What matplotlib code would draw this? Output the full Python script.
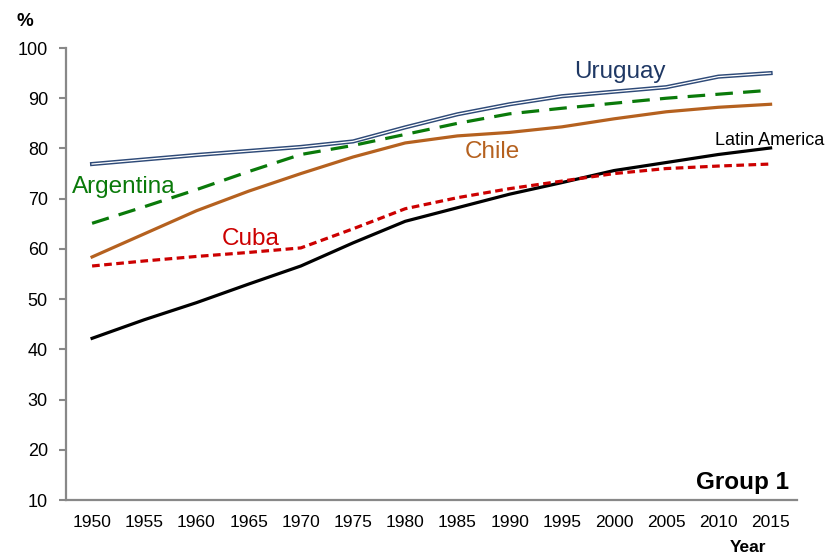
import matplotlib.pyplot as plt

plt.rcParams['font.family'] = ['Liberation Sans', 'DejaVu Sans']

years = [1950, 1955, 1960, 1965, 1970, 1975, 1980, 1985, 1990, 1995, 2000, 2005, 2010, 2015]
uruguay = [76.9, 77.8, 78.7, 79.5, 80.3, 81.4, 84.2, 86.8, 88.8, 90.4, 91.3, 92.2, 94.3, 95.0]
argentina = [65.1, 68.4, 71.8, 75.4, 78.8, 80.6, 82.8, 85.0, 86.9, 88.0, 89.0, 90.0, 90.8, 91.6]
chile = [58.4, 63.0, 67.6, 71.5, 75.0, 78.3, 81.1, 82.5, 83.2, 84.3, 85.9, 87.3, 88.2, 88.8]
cuba = [56.6, 57.6, 58.5, 59.3, 60.2, 64.0, 68.0, 70.2, 72.0, 73.5, 75.0, 76.0, 76.5, 76.9]
latam = [42.2, 45.9, 49.3, 53.0, 56.6, 61.2, 65.5, 68.2, 70.9, 73.2, 75.6, 77.2, 78.8, 80.1]

fig = plt.figure(figsize=(8.29, 5.55), dpi=100)
ax = fig.add_axes([0.0796, 0.099, 0.8814, 0.8145])

ax.plot(years, latam, color='black', lw=2.3)
ax.plot(years, cuba, color='#CC0000', lw=2.3, dashes=(2.4, 1.4))
ax.plot(years, chile, color='#B5611F', lw=2.3)
ax.plot(years, argentina, color='#0A7A0A', lw=2.3, dashes=(5.5, 3.2))
ax.plot(years, uruguay, color='#2E4A78', lw=3.0)
ax.plot(years, uruguay, color='white', lw=0.9)

ax.text(1996.2, 94.0, 'Uruguay', color='#1F3864', fontsize=17.5)
ax.text(1985.7, 78.1, 'Chile', color='#B5611F', fontsize=17.5)
ax.text(1948.1, 71.1, 'Argentina', color='#0A7A0A', fontsize=17.5)
ax.text(1962.4, 60.8, 'Cuba', color='#CC0000', fontsize=17.5)
ax.text(2009.7, 80.7, 'Latin America', color='black', fontsize=13)
ax.text(2016.8, 12.2, 'Group 1', fontsize=17.5, fontweight='bold', ha='right')

ax.set_xlim(1947.5, 2017.5)
ax.set_ylim(10, 100)
ax.set_yticks(range(10, 101, 10))
ax.set_xticks(years)
ax.tick_params(axis='x', length=0, labelsize=12.5, pad=11)
ax.tick_params(axis='y', length=5, width=1.5, color='#888888', labelsize=13, pad=8, direction='out')
for s in ['top', 'right']:
    ax.spines[s].set_visible(False)
for s in ['left', 'bottom']:
    ax.spines[s].set_color('#888888')
    ax.spines[s].set_linewidth(1.6)

fig.text(25 / 829, 1 - 22 / 555, '%', fontsize=13.5, fontweight='bold', ha='center', va='center')
fig.text(748 / 829, 1 - 547 / 555, 'Year', fontsize=12.5, fontweight='bold', ha='center', va='center')

fig.savefig('out.png', dpi=100)
